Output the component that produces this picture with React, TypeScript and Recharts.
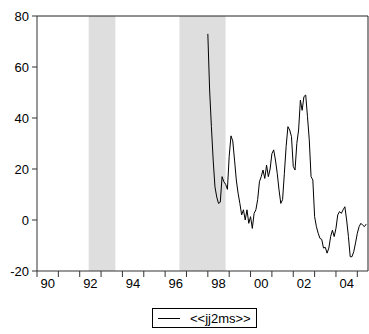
import { LineChart, Line, XAxis, YAxis, ReferenceArea, ReferenceLine } from "recharts";

// monthly values of jj2ms, starting 1998M01
const START_YEAR = 1998;
const jj2ms = [
  73, 51, 36.6, 23.5, 13, 9, 6.5, 7, 17, 15, 14, 12,
  25, 33, 31, 23.5, 15.7, 10.5, 6.5, 2, 4, 0, 4, -1.3,
  1.3, -3.3, 2.6, 4, 8, 15, 17, 19.6, 16.3, 21.5, 17, 20,
  26, 27.5, 23.5, 18.3, 11.8, 6.5, 8, 18.3, 28.8, 36.6, 35.3, 32.7,
  21, 19.6, 30, 35.3, 47, 43, 48.4, 49, 40.5, 31.4, 17, 15.7,
  1.3, -2.6, -5.2, -7.2, -7.6, -11, -10.7, -13, -11, -6.5, -4, -6.5,
  -3.3, 2, 3.3, 2.6, 4, 5.2, 0, -6.5, -14.4, -14.4, -12.4, -9,
  -5.2, -2.6, -1.3, -2, -2.6, -1.6,
];

// shaded periods (fractional years)
const shades = [
  [1992.42, 1993.67],
  [1996.67, 1998.83],
];

const yearTicks = [1990, 1991, 1992, 1993, 1994, 1995, 1996, 1997, 1998, 1999, 2000, 2001, 2002, 2003, 2004, 2005];
const valueTicks = [-20, 0, 20, 40, 60, 80];

const X_END = 2005.5;
const FONT = "Arial, 'Liberation Sans', sans-serif";

const data = jj2ms.map((v, i) => ({ t: START_YEAR + i / 12, v }));

const YearTick = (props: any) => {
  const { x, y, payload } = props;
  const yr = payload.value as number;
  if (yr % 2 !== 0 || yr >= 2005) return null;
  // labels sit in the middle of the year
  const half = 331 / (X_END - 1990) / 2;
  return (
    <text x={x + half} y={y} dy="0.71em" textAnchor="middle" fontSize={13} fill="#000" fontFamily={FONT}>
      {String(yr % 100).padStart(2, "0")}
    </text>
  );
};

export default function App() {
  return (
    <div style={{ position: "absolute", left: 0, top: 0, width: 369, height: 334, background: "#fff" }}>
      <LineChart width={369} height={300} data={data} margin={{ top: 16, right: 1, left: 0, bottom: 0 }}>
        {shades.map(([a, b], i) => (
          <ReferenceArea key={i} x1={a} x2={b} y1={-20} y2={80} fill="#dedede" fillOpacity={1} stroke="none" />
        ))}
        <XAxis
          type="number"
          dataKey="t"
          domain={[1990, X_END]}
          allowDataOverflow
          ticks={yearTicks}
          interval={0}
          height={29}
          tickSize={6}
          tickMargin={2}
          axisLine={{ stroke: "#333" }}
          tickLine={{ stroke: "#333" }}
          tick={<YearTick />}
        />
        <YAxis
          type="number"
          domain={[-20, 80]}
          ticks={valueTicks}
          interval={0}
          width={37}
          tickSize={5}
          tickMargin={3}
          axisLine={{ stroke: "#333" }}
          tickLine={{ stroke: "#333" }}
          tick={{ fill: "#000", fontSize: 13, fontFamily: FONT }}
        />
        <ReferenceLine y={80} stroke="#222" />
        <ReferenceLine x={X_END} stroke="#222" />
        <Line type="linear" dataKey="v" stroke="#000" strokeWidth={1} dot={false} isAnimationActive={false} />
      </LineChart>
      <div
        style={{
          position: "absolute",
          left: 152,
          top: 308,
          width: 103,
          height: 18,
          border: "1px solid #000",
          display: "flex",
          alignItems: "center",
          fontFamily: FONT,
          fontSize: 13,
        }}
      >
        <span style={{ display: "inline-block", width: 22, height: 0, borderTop: "1px solid #000", marginLeft: 5, marginRight: 10 }} />
        <span>&lt;&lt;jj2ms&gt;&gt;</span>
      </div>
    </div>
  );
}
